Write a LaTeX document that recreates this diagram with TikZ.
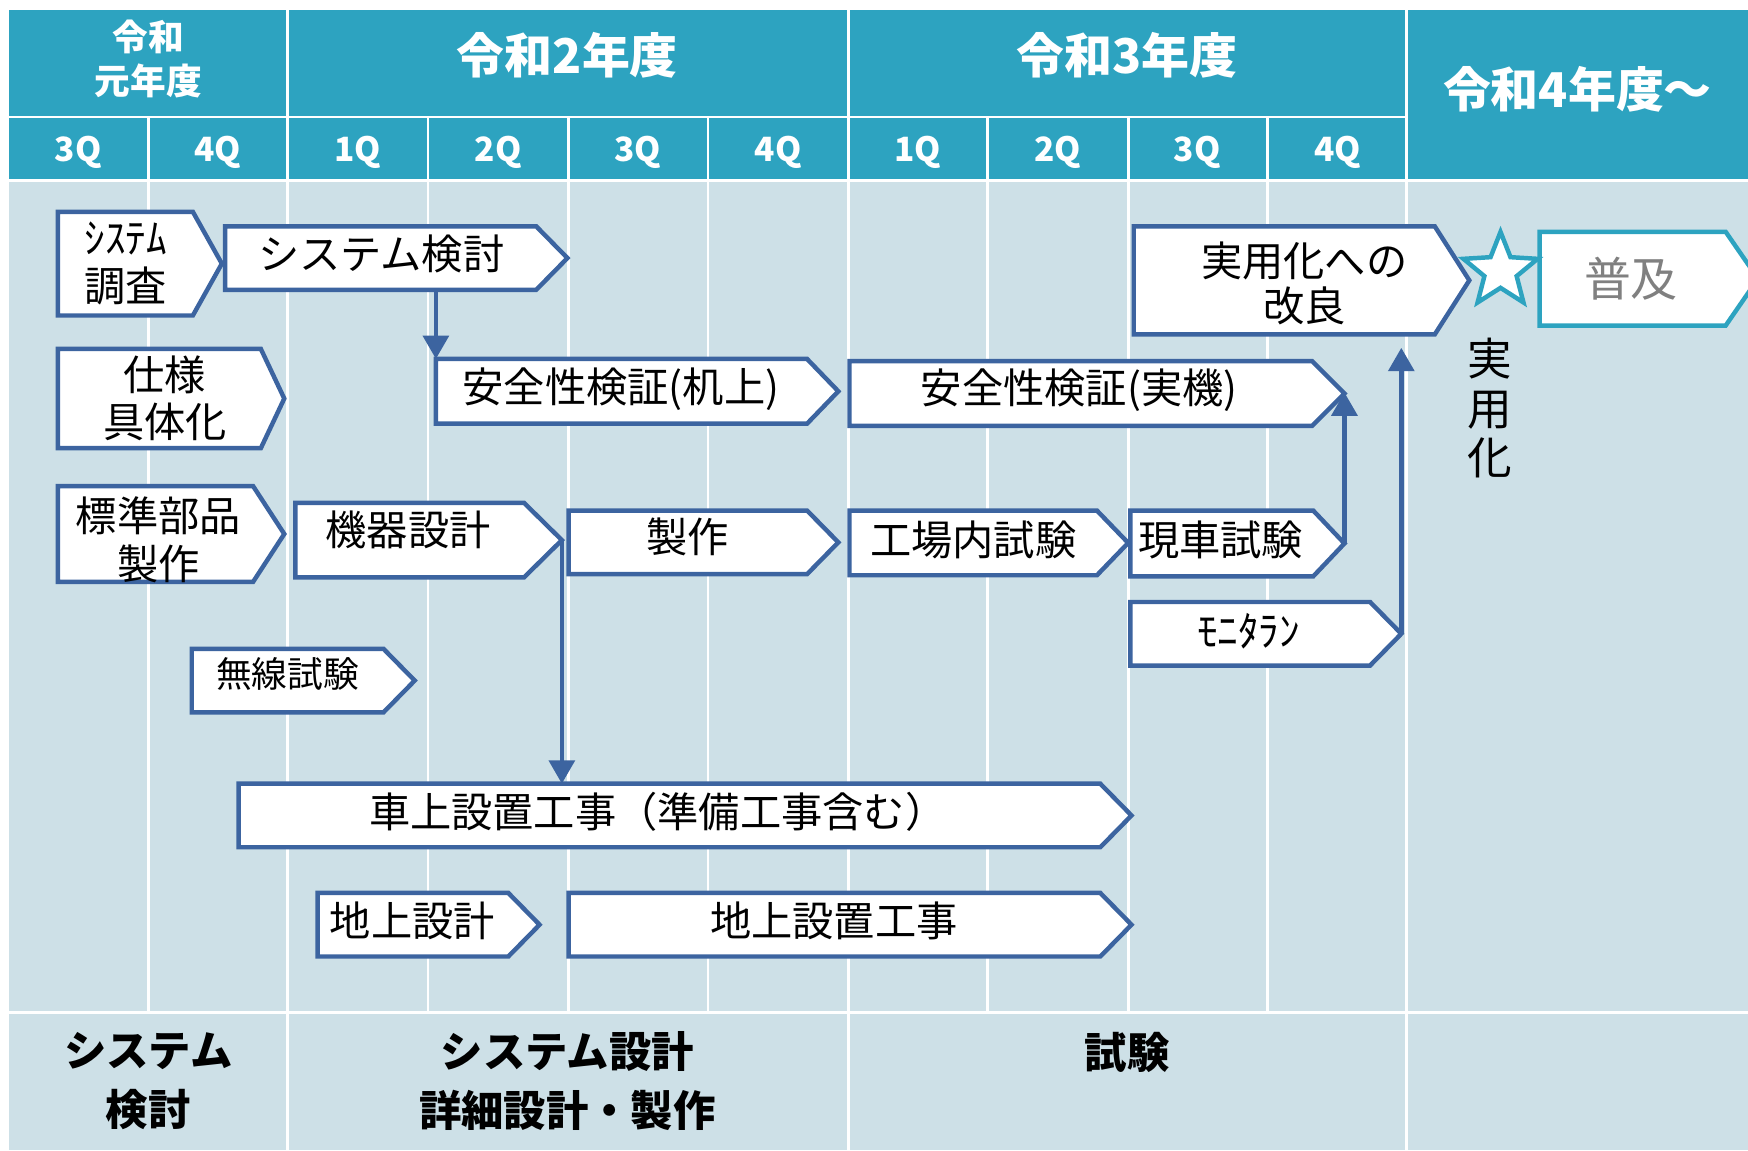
\documentclass[tikz,border=0pt]{standalone}
\usepackage{fontspec}
\newfontfamily\jp{Noto Sans CJK JP}
\usetikzlibrary{shapes.geometric,arrows.meta}
\definecolor{hdr}{RGB}{45,163,192}
\definecolor{bodybg}{RGB}{205,224,231}
\definecolor{bline}{RGB}{60,100,160}
\definecolor{gtxt}{RGB}{128,128,128}
\newcommand\jfs[2]{\fontsize{#1}{#2}\selectfont}
\tikzset{
 boxline/.style={draw=bline, line width=4pt, fill=white, line join=miter},
 tealline/.style={draw=hdr, line width=4pt, fill=white, line join=miter},
 lbl/.style={font=\jp\jfs{37}{43}, align=center, inner sep=0pt, text=black},
 hlbl/.style={font=\jp\bfseries\jfs{43}{48}, text=white, align=center, inner sep=0pt},
 qlbl/.style={font=\jp\bfseries\jfs{30}{34}, text=white, inner sep=0pt},
 blbl/.style={font=\jp\bfseries\jfs{38}{53}, align=center, inner sep=0pt},
 conn/.style={draw=bline, line width=4pt, -{Triangle[length=21pt,width=23pt]}},
 grid/.style={draw=white, line width=2.5pt},
}
% name, x1, y1, xtip, y2, xcorner, style
\newcommand\chev[7]{%
 \draw[#7] (#2,#3) -- (#6,#3) -- (#4,{(#3+#5)/2}) -- (#6,#5) -- (#2,#5) -- cycle;
 \coordinate (#1-tip) at (#4,{(#3+#5)/2});
}
\begin{document}
\begin{tikzpicture}[x=1pt,y=-1pt]
\useasboundingbox (0,0) rectangle (1568,1032);
\clip (0,0) rectangle (1568,1032);
\fill[white] (0,0) rectangle (1568,1032);
% table
\fill[hdr] (8,9) rectangle (1568,161);
\fill[bodybg] (8,163) rectangle (1568,1032);
\draw[grid] (8,105) -- (1262,105);
\draw[grid] (8,162) -- (1568,162);
\draw[grid, line width=3pt] (8,908) -- (1568,908);
\foreach \x in {258,761,1262} {\draw[grid] (\x,9) -- (\x,1032);}
\foreach \x in {133,384,510,635,886,1012,1137} {\draw[grid] (\x,105) -- (\x,908);}
% header text
\node[hlbl, font=\jp\bfseries\jfs{32}{39}] (y1) at (133,53) {令和\\元年度};
\node[hlbl] (y2) at (509,50) {令和2年度};
\node[hlbl] (y3) at (1011,50) {令和3年度};
\node[hlbl] (y4) at (1415,80) {令和4年度～};
\foreach \x/\q [count=\i] in {70/3Q,195/4Q,321/1Q,447/2Q,572/3Q,698/4Q,823/1Q,949/2Q,1074/3Q,1200/4Q}
 {\node[qlbl] (q\i) at (\x,137) {\q};}
% bottom text
\node[blbl] (b1) at (133,970) {システム\\検討};
\node[blbl] (b2) at (509,970) {システム設計\\詳細設計・製作};
\node[blbl] (b3) at (1011,944) {試験};
% boxes
\chev{sc}{52}{190}{199}{283}{173}{boxline}
\node[lbl] (sct) at (113,236) {ｼｽﾃﾑ\\調査};
\chev{sk}{202}{203}{509}{260}{481}{boxline}
\node[lbl] (skt) at (342,228) {システム検討};
\chev{sy}{52}{313}{255}{402}{234}{boxline}
\node[lbl, font=\jp\jfs{37}{42}] (syt) at (148,357) {仕様\\具体化};
\chev{hb}{52}{436}{255}{522}{227}{boxline}
\node[lbl] (hbt) at (142,484) {標準部品\\製作};
\chev{kk}{265}{451}{504}{518}{470}{boxline}
\node[lbl] (kkt) at (366,475) {機器設計};
\chev{mu}{172}{582}{372}{639}{344}{boxline}
\node[lbl, font=\jp\jfs{32}{38}] (mut) at (258,605) {無線試験};
\chev{an1}{391}{322}{752}{380}{724}{boxline}
\node[lbl] (an1t) at (557,349) {安全性検証(机上)};
\chev{se}{510}{458}{752}{515}{724}{boxline}
\node[lbl] (set) at (617,482) {製作};
\chev{an2}{762}{324}{1206}{382}{1177}{boxline}
\node[lbl] (an2t) at (968,350) {安全性検証(実機)};
\chev{kj}{762}{458}{1012}{516}{984}{boxline}
\node[lbl] (kjt) at (873,484) {工場内試験};
\chev{gs}{1014}{458}{1206}{517}{1178}{boxline}
\node[lbl] (gst) at (1095,484) {現車試験};
\chev{mo}{1014}{540}{1257}{597}{1229}{boxline}
\node[lbl] (mot) at (1120,566) {ﾓﾆﾀﾗﾝ};
\chev{ky}{1017}{203}{1318}{300}{1287}{boxline}
\node[lbl, font=\jp\jfs{37}{40}] (kyt) at (1170,254) {実用化への\\改良};
\chev{fk}{1381}{208}{1577}{292}{1548}{tealline}
\node[lbl, text=gtxt, font=\jp\jfs{42}{44}] (fkt) at (1463,250) {普及};
\chev{sj}{214}{703}{1015}{760}{987}{boxline}
\node[lbl] (sjt) at (590,728) {車上設置工事（準備工事含む）};
\chev{cs}{285}{801}{484}{858}{456}{boxline}
\node[lbl] (cst) at (370,826) {地上設計};
\chev{cj}{510}{801}{1015}{858}{987}{boxline}
\node[lbl] (cjt) at (748,826) {地上設置工事};
% star and vertical label
\node[star, star points=5, star point ratio=2.3, minimum size=70pt, inner sep=0pt,
 draw=hdr, fill=white, line width=4pt] (star) at (1346,243) {};
\node[lbl, font=\jp\jfs{40}{44}] (ji) at (1336,366) {実\\用\\化};
% connectors
\coordinate (skB) at (391,260);
\coordinate (an1T) at (391,322);
\coordinate (sjT) at (504,703);
\coordinate (kkB) at (504,485);
\coordinate (an2B) at (1206,352);
\coordinate (kyB) at (1257,312);
\draw[conn] (skB) -- (an1T);
\draw[conn] (kk-tip) -- (sjT);
\draw[conn] (gs-tip) -- (an2B);
\draw[conn] (mo-tip) -- (kyB);
\end{tikzpicture}
\end{document}
